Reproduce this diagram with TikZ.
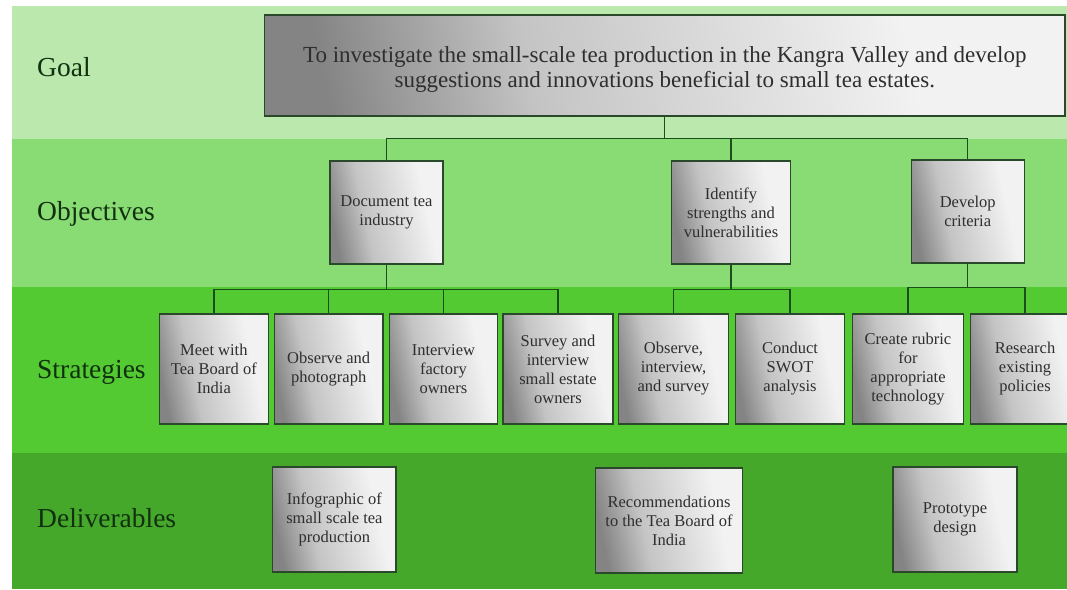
\documentclass[tikz,border=0pt]{standalone}
\usepackage{fontspec}
\setmainfont{Liberation Serif}
\definecolor{bandA}{RGB}{187,232,172}
\definecolor{bandB}{RGB}{137,219,115}
\definecolor{bandC}{RGB}{84,202,50}
\definecolor{bandD}{RGB}{70,168,42}
\definecolor{boxdark}{RGB}{132,132,132}
\definecolor{boxmid}{RGB}{196,196,196}
\definecolor{boxlight}{RGB}{242,242,242}
\definecolor{edgec}{RGB}{42,72,42}
\definecolor{connc}{RGB}{28,78,28}
\definecolor{labelc}{RGB}{16,48,16}
\pgfdeclarehorizontalshading{boxshade}{100bp}{color(0bp)=(boxdark); color(25bp)=(boxdark); color(40bp)=(boxmid); color(68bp)=(boxlight); color(75bp)=(boxlight); color(100bp)=(boxlight)}
\tikzset{
  gbox/.style={draw=edgec, line width=1.3pt, shading=boxshade, shading angle=12,
    inner sep=0pt, align=center,
    font=\fontsize{16.5}{19}\selectfont, text=black!82},
  goalbox/.style={gbox, minimum width=800.5pt, minimum height=101pt},
  goaltext/.style={align=center, inner sep=0pt, font=\fontsize{23}{25}\selectfont, text=black!82},
  objbox/.style={gbox, minimum height=103pt},
  strbox/.style={gbox, minimum height=110pt},
  delbox/.style={gbox, minimum height=105pt},
  rowlabel/.style={anchor=base west, inner sep=0pt, text=labelc, font=\fontsize{27.5}{30}\selectfont},
  link/.style={draw=connc, line width=1.2pt}
}
\begin{document}
\begin{tikzpicture}[x=1pt,y=-1pt]
\clip (0,0) rectangle (1067,589);
\fill[white] (0,0) rectangle (1067,589);
% bands
\fill[bandA] (12.4,6) rectangle (1067,139);
\fill[bandB] (12.4,139) rectangle (1067,287);
\fill[bandC] (12.4,287) rectangle (1067,453);
\fill[bandD] (12.4,453) rectangle (1067,589);
% row labels
\node[rowlabel] (lgoal) at (37,76) {Goal};
\node[rowlabel] (lobj) at (37,220.7) {Objectives};
\node[rowlabel] (lstr) at (37,378) {Strategies};
\node[rowlabel] (ldel) at (37,527) {Deliverables};
% goal
\node[goalbox] (goal) at (664.8,65.5) {};
\node[goaltext] (goaltxt) at (664.8,69.1) {To investigate the small-scale tea production in the Kangra Valley and develop\\suggestions and innovations beneficial to small tea estates.};
% objectives
\node[objbox, minimum width=113pt] (doc) at (386.5,212.5) {Document tea\\industry};
\node[objbox, minimum width=118.5pt] (idf) at (731,212.5) {Identify\\strengths and\\vulnerabilities};
\node[objbox, minimum width=113pt] (dev) at (967.7,211.5) {Develop\\criteria};
% strategies
\node[strbox, minimum width=109pt] (meet) at (213.9,369) {Meet with\\Tea Board of\\India};
\node[strbox, minimum width=108.5pt] (obsph) at (328.7,369) {Observe and\\photograph};
\node[strbox, minimum width=108.5pt] (intv) at (443.4,369) {Interview\\factory\\owners};
\node[strbox, minimum width=110pt] (surv) at (558,369) {Survey and\\interview\\small estate\\owners};
\node[strbox, minimum width=110pt] (obsis) at (673.5,369) {Observe,\\interview,\\and survey};
\node[strbox, minimum width=109.5pt] (swot) at (790,369) {Conduct\\SWOT\\analysis};
\node[strbox, minimum width=110.5pt] (rubric) at (908,369) {Create rubric\\for\\appropriate\\technology};
\node[strbox, minimum width=109pt] (res) at (1025,369) {Research\\existing\\policies};
% deliverables
\node[delbox, minimum width=123.3pt] (info) at (334.4,519.5) {Infographic of\\small scale tea\\production};
\node[delbox, minimum width=146.5pt] (rec) at (669,520.5) {Recommendations\\to the Tea Board of\\India};
\node[delbox, minimum width=124pt] (proto) at (955,519.5) {Prototype\\design};
% connectors goal -> objectives
\draw[link] (goal.south) -- ++(0,21.5) -| (doc.north);
\draw[link] (goal.south) -- ++(0,21.5) -| (idf.north);
\draw[link] (goal.south) -- ++(0,21.5) -| (dev.north);
% objectives -> strategies
\draw[link] (doc.south) -- ++(0,24.5) -| (meet.north);
\draw[link] (doc.south) -- ++(0,24.5) -| (obsph.north);
\draw[link] (doc.south) -- ++(0,24.5) -| (intv.north);
\draw[link] (doc.south) -- ++(0,24.5) -| (surv.north);
\draw[link] (idf.south) -- ++(0,24.5) -| (obsis.north);
\draw[link] (idf.south) -- ++(0,24.5) -| (swot.north);
\draw[link] (dev.south) -- ++(0,23.5) -| (rubric.north);
\draw[link] (dev.south) -- ++(0,23.5) -| (res.north);
\end{tikzpicture}
\end{document}
